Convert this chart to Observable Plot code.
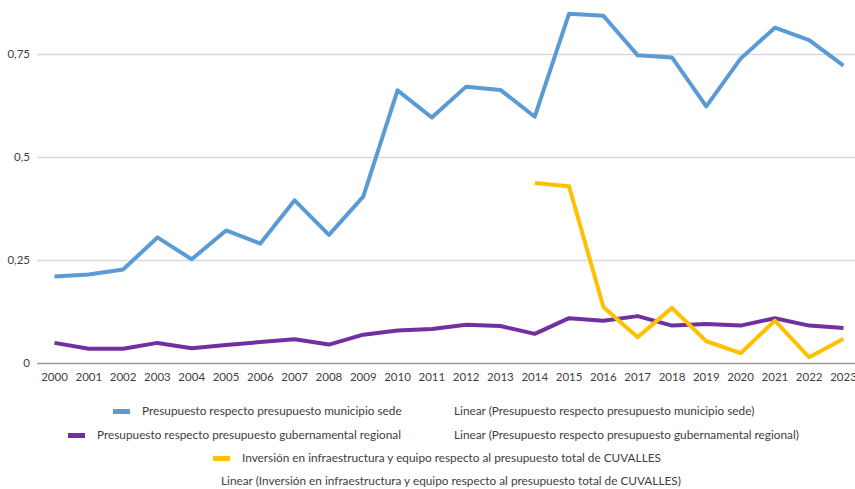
<!DOCTYPE html>
<html><head><meta charset="utf-8">
<script src="https://cdn.jsdelivr.net/npm/d3@7"></script>
<script src="https://cdn.jsdelivr.net/npm/@observablehq/plot@0.6"></script>
<style>
body{margin:0;background:#fff;font-family:Lato,sans-serif;}
#wrap{position:relative;width:855px;height:489px;overflow:hidden;background:#fff}
.leg{position:absolute;font-size:11.8px;color:#404040;white-space:nowrap;line-height:14px}
.sw{position:absolute;height:5px;width:17px}
</style></head><body><div id="wrap"><div id="chart"></div></div>
<script>
const years = [2000,2001,2002,2003,2004,2005,2006,2007,2008,2009,2010,2011,2012,2013,2014,2015,2016,2017,2018,2019,2020,2021,2022,2023];
const municipio = [0.211,0.216,0.228,0.306,0.253,0.323,0.291,0.396,0.312,0.405,0.663,0.597,0.672,0.664,0.599,0.849,0.844,0.748,0.743,0.624,0.740,0.815,0.785,0.723];
const gubernamental = [0.050,0.036,0.036,0.050,0.037,0.045,0.052,0.059,0.046,0.070,0.080,0.084,0.094,0.091,0.072,0.110,0.104,0.115,0.092,0.096,0.092,0.110,0.092,0.086];
const inversionYears = [2014,2015,2016,2017,2018,2019,2020,2021,2022,2023];
const inversion = [0.438,0.430,0.137,0.064,0.135,0.054,0.025,0.104,0.015,0.060];
const seriesNames = [
  "Presupuesto respecto presupuesto municipio sede",
  "Presupuesto respecto presupuesto gubernamental regional",
  "Inversión en infraestructura y equipo respecto al presupuesto total de CUVALLES"
];
const seriesColors = ["#5B9BD5","#7030A0","#FFC000"];
const yTicks = [0,0.25,0.5,0.75];

const rows = [];
years.forEach((yr,i)=>rows.push({year:yr,value:municipio[i],s:seriesNames[0]}));
years.forEach((yr,i)=>rows.push({year:yr,value:gubernamental[i],s:seriesNames[1]}));
inversionYears.forEach((yr,i)=>rows.push({year:yr,value:inversion[i],s:seriesNames[2]}));

const chart = Plot.plot({
  width:855, height:390, marginLeft:37, marginRight:0, marginTop:0, marginBottom:27,
  style:{fontFamily:"Lato, sans-serif", fontSize:"11.5px", color:"#404040", background:"white", overflow:"visible"},
  x:{type:"linear", domain:[years[0], years[years.length-1]], range:[54,843], axis:null},
  y:{domain:[0,0.75], range:[363,54], axis:null},
  color:{domain:seriesNames, range:seriesColors},
  marks:[
    Plot.ruleY(yTicks.slice(1), {stroke:"#d9d9d9", strokeWidth:1.5}),
    Plot.ruleY([0], {stroke:"#999999", strokeWidth:1.5}),
    Plot.axisY(yTicks, {anchor:"left", tickSize:0, tickPadding:7.5, label:null, fill:"#404040", tickFormat:d=>String(d).replace(".",",")}),
    Plot.axisX(years, {anchor:"bottom", tickSize:0, tickPadding:9, label:null, fill:"#404040", tickFormat:d=>String(d)}),
    Plot.line(rows, {x:"year", y:"value", z:"s", stroke:"s", strokeWidth:4, strokeLinejoin:"round", strokeLinecap:"butt"})
  ]
});
document.getElementById("chart").appendChild(chart);

const wrap = document.getElementById("wrap");
const legendItems = [
  {text:seriesNames[0], color:seriesColors[0], swX:113, textX:142, cy:411},
  {text:"Linear (" + seriesNames[0] + ")", color:null, textX:454, cy:411},
  {text:seriesNames[1], color:seriesColors[1], swX:68, textX:97, cy:435},
  {text:"Linear (" + seriesNames[1] + ")", color:null, textX:454, cy:435},
  {text:seriesNames[2], color:seriesColors[2], swX:213, textX:242, cy:458},
  {text:"Linear (" + seriesNames[2] + ")", color:null, textX:221, cy:481}
];
legendItems.forEach(it=>{
  if(it.color){
    const sw=document.createElement("div");
    sw.className="sw"; sw.style.left=it.swX+"px"; sw.style.top=(it.cy-2.5)+"px"; sw.style.background=it.color;
    wrap.appendChild(sw);
  }
  const t=document.createElement("div");
  t.className="leg"; t.textContent=it.text; t.style.left=it.textX+"px"; t.style.top=(it.cy-7)+"px";
  wrap.appendChild(t);
});
</script>
</body></html>
